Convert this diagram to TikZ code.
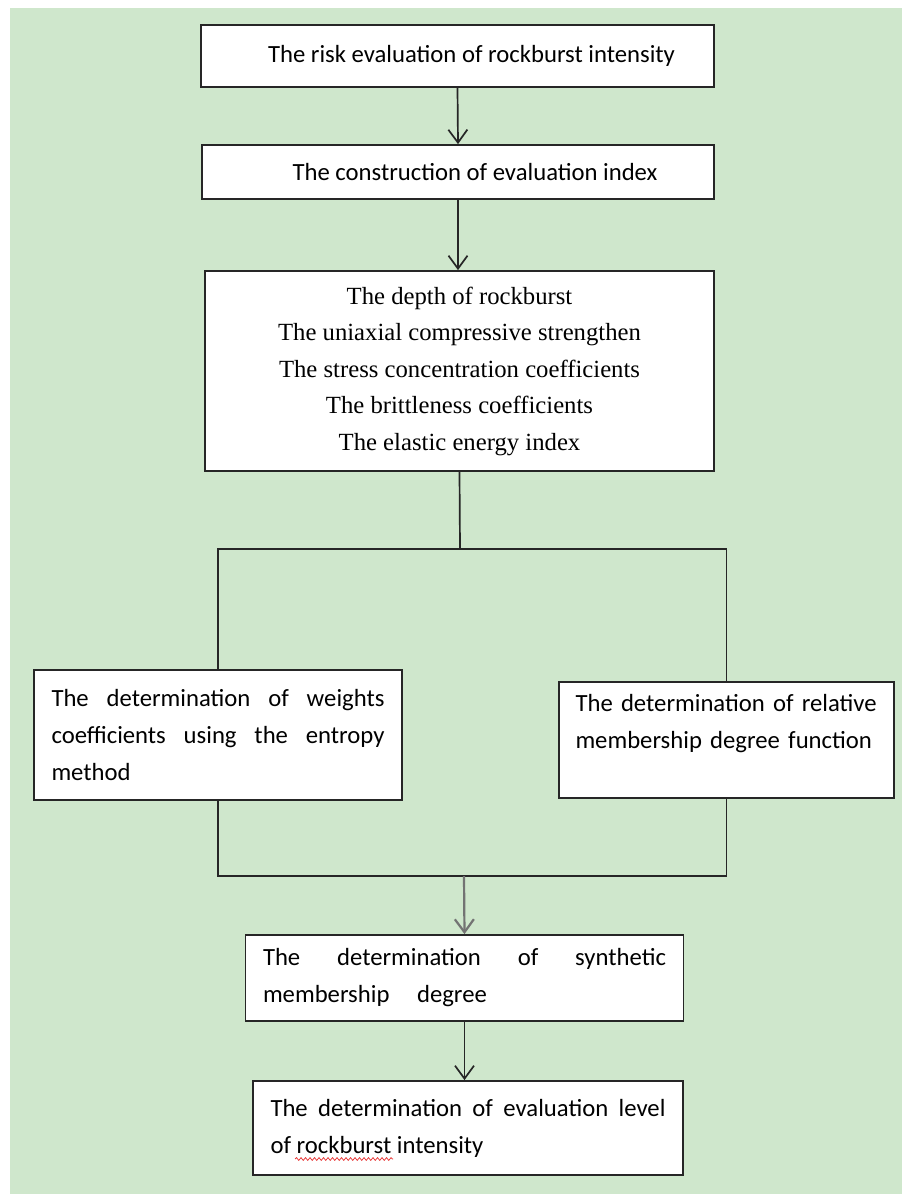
\documentclass[tikz,border=0pt]{standalone}
\usepackage{fontspec}
\setmainfont{Carlito}
\newfontfamily\timesfont{Liberation Serif}
\usepackage{xcolor}
\usepackage{tikz}
\usetikzlibrary{arrows.meta}
\usetikzlibrary{positioning}
\usetikzlibrary{calc}
\usetikzlibrary{decorations.pathmorphing}
\definecolor{paneGreen}{RGB}{207,231,204}
\definecolor{waveRed}{RGB}{230,40,40}
\tikzset{
  >={Straight Barb[length=13pt,width=19pt]},
  line/.style={draw, line width=1.7pt, black!85},
  arrow/.style={line, ->},
  box/.style={draw, rectangle, line width=1.8pt, black!85, fill=white, text=black,
    inner xsep=17.5pt, inner ysep=0pt, font=\fontsize{24.7}{37}\selectfont},
  spellwave/.style={draw=waveRed, line width=0.7pt, decorate,
    decoration={snake, amplitude=1.4pt, segment length=4.5pt}}
}

\begin{document}
\begin{tikzpicture}[x=1pt, y=-1pt]
    \useasboundingbox (0,0) rectangle (902,1194);
    \fill [paneGreen] (10,8) rectangle (902,1194);

    % Define styles
    \tikzstyle{titlebox} = [box, align=center]
    \tikzstyle{textbox} = [box, align=justify]

    % Place nodes
    \node [titlebox, minimum width=513pt, minimum height=62pt] (risk) at (457.5,56)
        {\hspace*{28pt}The risk evaluation of rockburst intensity};
    \node [titlebox, minimum width=512pt, minimum height=54pt] (index) at (458,172)
        {\hspace*{34pt}The construction of evaluation index};
    \node [titlebox, minimum width=509pt, minimum height=200pt,
        font=\timesfont\fontsize{24.7}{36.5}\selectfont] (factors) at (459.5,371)
        {The depth of rockburst\\
         The uniaxial compressive strengthen\\
         The stress concentration coefficients\\
         The brittleness coefficients\\
         The elastic energy index};
    \node [textbox, text width=333pt, minimum height=130pt] (weights) at (218,735)
        {The determination of weights\linebreak coefficients using the entropy\linebreak method};
    \node [box, align=left, inner xsep=16.5pt, text width=302pt, minimum height=116pt] (membership) at (726.5,740)
        {The determination of relative\\ membership degree function\\ \mbox{}};
    \node [textbox, text width=403pt, minimum height=86pt] (synthetic) at (464.5,978)
        {The determination of synthetic\linebreak membership\hspace{22pt} degree};
    \node [textbox, text width=395pt, minimum height=94pt] (level) at (468,1128)
        {The determination of evaluation level\linebreak of rockburst intensity};

    \coordinate (fork) at (460,549);
    \coordinate (merge) at (464,876);

    % Draw edges
    \path [arrow] (risk.south) -- (index.north);
    \path [arrow] (index.south) -- (index.south |- factors.north);
    \path [line] (factors.south) -- (fork);
    \path [line] (weights.north) |- (fork) -| (membership.north);
    \path [line] (weights.south) |- (merge) -| (membership.south);
    \path [arrow, black!55, line width=2.2pt] (merge) -- (synthetic.north);
    \path [arrow] (synthetic.south) -- (synthetic.south |- level.north);

    % spell-check wave under "rockburst"
    \path [spellwave] ($(level.west)+(43,31)$) -- ++(98,0);
\end{tikzpicture}
\end{document}
